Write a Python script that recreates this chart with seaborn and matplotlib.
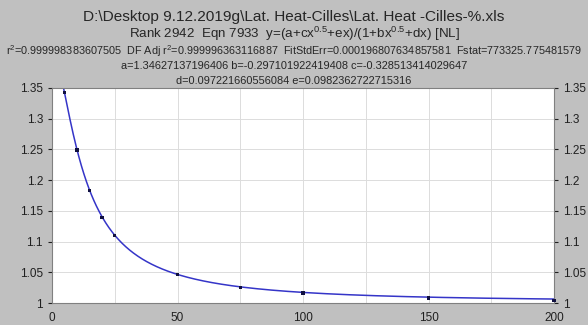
import numpy as np
import pandas as pd
import seaborn as sns
import matplotlib.pyplot as plt

# data points
x_pts = [5, 10, 15, 20, 25, 50, 75, 100, 150, 200]
y_pts = [1.343, 1.249, 1.183, 1.139, 1.110, 1.046, 1.025, 1.016, 1.008, 1.004]

# fitted parameters printed in the header
a = 1.34627137196406
b = -0.297101922419408
c = -0.328513414029647
d = 0.097221660556084
e = 0.0982362722715316

x_ticks = [0, 50, 100, 150, 200]
y_ticks = [1, 1.05, 1.1, 1.15, 1.2, 1.25, 1.3, 1.35]
y_labels = ["1", "1.05", "1.1", "1.15", "1.2", "1.25", "1.3", "1.35"]

sns.set_style("white")
plt.rcParams["font.family"] = ["Liberation Sans", "DejaVu Sans"]
plt.rcParams["mathtext.fontset"] = "custom"
plt.rcParams["mathtext.rm"] = "Liberation Sans"
plt.rcParams["mathtext.default"] = "regular"

xf = np.linspace(0.2, 200, 800)
yf = (a + c * np.sqrt(xf) + e * xf) / (1 + b * np.sqrt(xf) + d * xf)
fit = pd.DataFrame({"x": xf, "y": yf})
pts = pd.DataFrame({"x": x_pts, "y": y_pts})

bg = "#c0c0c0"
fig = plt.figure(figsize=(5.88, 3.25), dpi=100, facecolor=bg)
ax = fig.add_axes([52 / 588, 22 / 325, 502 / 588, 215 / 325])
ax.set_facecolor("white")

sns.lineplot(data=fit, x="x", y="y", ax=ax, color="#3535c8", linewidth=1.1)
sns.scatterplot(data=pts, x="x", y="y", ax=ax, marker="s", s=6, color="#101040",
                edgecolor="none", zorder=5, clip_on=False)

ax.set_xlim(0, 200)
ax.set_ylim(1, 1.35)
ax.set_xticks(np.arange(0, 201, 25), minor=True)
ax.set_xticks(x_ticks)
ax.set_yticks(y_ticks)
ax.set_yticklabels(y_labels)
ax.grid(True, which="both", axis="x", color="#dcdcdc", linewidth=0.7)
ax.grid(True, axis="y", color="#dcdcdc", linewidth=0.7)
ax.set_axisbelow(True)
ax.set_xlabel("")
ax.set_ylabel("")
ax.tick_params(axis="both", labelsize=8.5, colors="#202020", length=3, direction="out")
ax.tick_params(axis="x", which="minor", length=0)
ax.tick_params(axis="y", right=True, labelright=True, left=True)
for s in ax.spines.values():
    s.set_color("#808080")
    s.set_linewidth(0.8)

fig.text(0.5, 1 - 17 / 325, r"D:\Desktop 9.12.2019g\Lat. Heat-Cilles\Lat. Heat -Cilles-%.xls",
         ha="center", va="center", fontsize=11.1)
fig.text(0.5, 1 - 33.5 / 325, r"Rank 2942  Eqn 7933  y=(a+cx$^{0.5}$+ex)/(1+bx$^{0.5}$+dx) [NL]",
         ha="center", va="center", fontsize=9.6)
fig.text(0.5, 1 - 51.5 / 325,
         r"r$^{2}$=0.999998383607505  DF Adj r$^{2}$=0.999996363116887  FitStdErr=0.000196807634857581  Fstat=773325.775481579",
         ha="center", va="center", fontsize=7.85)
fig.text(0.5, 1 - 66 / 325, "a=1.34627137196406 b=-0.297101922419408 c=-0.328513414029647",
         ha="center", va="center", fontsize=7.95)
fig.text(0.5, 1 - 80.5 / 325, "d=0.097221660556084 e=0.0982362722715316",
         ha="center", va="center", fontsize=7.95)

fig.savefig("out.png", dpi=100, facecolor=bg)
